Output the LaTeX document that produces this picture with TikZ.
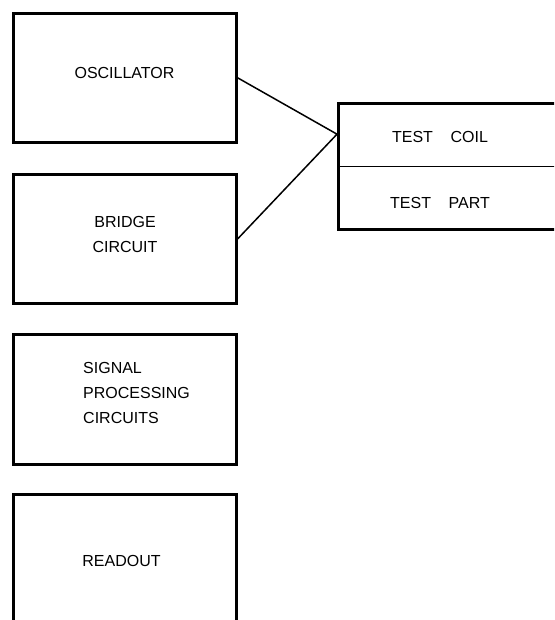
\documentclass[tikz,border=0pt]{standalone}
\usepackage{fontspec}
\setmainfont{Liberation Sans}
\usetikzlibrary{calc}
\begin{document}
\begin{tikzpicture}[x=1pt,y=-1pt,
  box/.style={draw, line width=2.7pt, inner sep=0pt, anchor=north west},
  lbl/.style={font=\fontsize{16pt}{25pt}\selectfont, inner sep=0pt},
  wire/.style={line width=1.5pt}]
\useasboundingbox (0,0) rectangle (554,620);
\clip (0,0) rectangle (554,620);
\node[box, minimum width=223pt, minimum height=129pt] (osc) at (12,12) {};
\node[box, minimum width=223pt, minimum height=129pt] (bridge) at (12,173) {};
\node[box, minimum width=223pt, minimum height=130pt] (sig) at (12,333) {};
\node[box, minimum width=223pt, minimum height=160pt] (read) at (12,493) {};
\node[box, minimum width=260pt, minimum height=126pt] (test) at (337,102) {};
\draw[line width=0.9pt] (test.west) -- (test.east);
\coordinate (tip) at ($(test.north west)!0.25!(test.south west)$);
\node[lbl] (osct) at (124.5,73) {OSCILLATOR};
\node[lbl, align=center] (bridget) at (125,234) {BRIDGE\\CIRCUIT};
\node[lbl, align=left, anchor=west] (sigt) at (83,393) {SIGNAL\\PROCESSING\\CIRCUITS};
\node[lbl] (readt) at (121.5,561) {READOUT};
\node[lbl] (coilt) at (440,137) {TEST\hspace{1.1em}COIL};
\node[lbl] (partt) at (440,203) {TEST\hspace{1.1em}PART};
\draw[wire] (osc.east) -- (tip) -- (bridge.east);
\end{tikzpicture}
\end{document}
